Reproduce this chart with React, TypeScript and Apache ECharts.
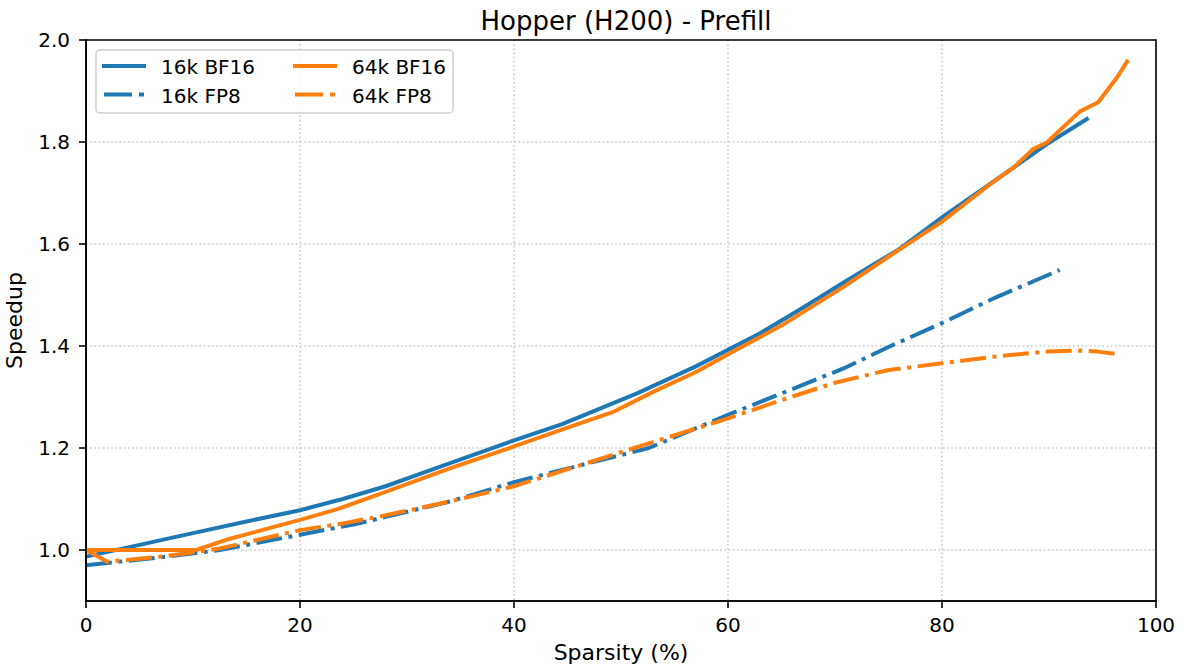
import React, { useEffect, useRef } from "react";
import * as echarts from "echarts";

// Sparsity (%) samples and measured speedups for each configuration
const bf16_16kX = [0, 5, 10, 15, 20, 24, 28, 32, 36, 40, 44.5, 51.5, 57, 63, 67, 71, 76, 80, 85, 89.8, 93.7];
const bf16_16kY = [0.987, 1.01, 1.033, 1.056, 1.078, 1.1, 1.125, 1.155, 1.185, 1.215, 1.247, 1.307, 1.36, 1.425, 1.475, 1.527, 1.59, 1.652, 1.725, 1.796, 1.847];

const fp8_16kX = [0, 7.5, 12.5, 20, 25, 28, 34, 40, 46, 52.6, 60, 65, 70.8, 75, 80, 85, 91];
const fp8_16kY = [0.97, 0.987, 1.0, 1.03, 1.05, 1.065, 1.095, 1.133, 1.165, 1.2, 1.265, 1.307, 1.356, 1.398, 1.445, 1.495, 1.549];

const bf16_64kX = [0, 5, 10.3, 13.1, 20, 23.5, 28, 34, 40, 45, 49.3, 53, 57.1, 61, 65, 70.8, 75, 80, 84.8, 86.7, 88.5, 89.8, 92.9, 94.6, 96.4, 97.4];
const bf16_64kY = [1.0, 1.0, 1.0, 1.02, 1.059, 1.08, 1.114, 1.16, 1.203, 1.24, 1.271, 1.31, 1.35, 1.395, 1.44, 1.516, 1.575, 1.644, 1.722, 1.75, 1.786, 1.799, 1.86, 1.878, 1.928, 1.961];

const fp8_64kX = [0, 2, 7.5, 12.5, 20, 24, 28, 34, 40, 46, 52, 60, 65, 70, 75, 80, 84.8, 89.8, 92.9, 94.5, 96.4];
const fp8_64kY = [1.0, 0.977, 0.988, 1.003, 1.039, 1.052, 1.068, 1.095, 1.125, 1.165, 1.205, 1.258, 1.294, 1.328, 1.353, 1.366, 1.379, 1.389, 1.391, 1.389, 1.384];

const xTicks = [0, 20, 40, 60, 80, 100];
const yTicks = [1.0, 1.2, 1.4, 1.6, 1.8, 2.0];

const BLUE = "#1f77b4";
const ORANGE = "#ff7f0e";
const DASH_DOT = [26, 6.5, 4, 6.5];
const FONT = "DejaVu Sans";
const GRID_LINE = { color: "#c8c8c8", width: 1.6, type: [1.6, 2.6] };

// plot rectangle in pixels
const PLOT = { left: 86, top: 40, right: 1156, bottom: 601 };

const pairs = (xs: number[], ys: number[]) => xs.map((x, i) => [x, ys[i]]);

const lineSeries = (name: string, data: number[][], color: string, dashed: boolean) => ({
  name,
  type: "line",
  data,
  showSymbol: false,
  symbol: "none",
  color,
  lineStyle: { color, width: 4, type: dashed ? DASH_DOT : "solid", cap: "butt", join: "round" },
});

const legendItems = [
  { name: "16k BF16", color: BLUE, dashed: false, col: 0, row: 0 },
  { name: "16k FP8", color: BLUE, dashed: true, col: 0, row: 1 },
  { name: "64k BF16", color: ORANGE, dashed: false, col: 1, row: 0 },
  { name: "64k FP8", color: ORANGE, dashed: true, col: 1, row: 1 },
];

export default function App() {
  const ref = useRef<HTMLDivElement>(null);

  useEffect(() => {
    if (!ref.current) return;
    const chart = echarts.init(ref.current, null, { renderer: "svg" });

    const colX = [102, 293];
    const rowY = [66, 94.5];
    const legendGraphics: any[] = [
      {
        type: "rect",
        z: 20,
        shape: { x: 96, y: 50, width: 357, height: 63, r: 4 },
        style: { fill: "rgba(255,255,255,0.85)", stroke: "#d0d0d0", lineWidth: 1.5 },
      },
    ];
    legendItems.forEach((it) => {
      const x0 = colX[it.col];
      const y = rowY[it.row];
      legendGraphics.push({
        type: "line",
        z: 21,
        shape: { x1: it.dashed ? x0 + 2 : x0, y1: y, x2: x0 + 44, y2: y },
        style: { stroke: it.color, lineWidth: 4, lineDash: it.dashed ? [28, 7, 5, 7] : null, lineCap: "butt" },
      });
      legendGraphics.push({
        type: "text",
        z: 21,
        x: x0 + 59,
        y: y + 1,
        style: {
          text: it.name,
          fill: "#000",
          font: `20px "${FONT}"`,
          verticalAlign: "middle",
          align: "left",
        },
      });
    });

    chart.setOption({
      animation: false,
      textStyle: { fontFamily: FONT },
      title: {
        text: "Hopper (H200) - Prefill",
        left: 621,
        top: 3,
        textAlign: "center",
        textStyle: { fontFamily: FONT, fontSize: 26, fontWeight: "normal", color: "#000" },
      },
      grid: {
        left: PLOT.left,
        right: 1184 - PLOT.right,
        top: PLOT.top,
        bottom: 672 - PLOT.bottom,
        show: false,
        containLabel: false,
        outerBoundsMode: "none",
      },
      graphic: [
        // axes frame drawn above the plotted lines
        {
          type: "rect",
          z: 15,
          silent: true,
          shape: { x: PLOT.left, y: PLOT.top, width: PLOT.right - PLOT.left, height: PLOT.bottom - PLOT.top },
          style: { fill: "none", stroke: "#000", lineWidth: 1.6 },
        },
        ...legendGraphics,
      ],
      xAxis: {
        type: "value",
        min: 0,
        max: 100,
        interval: 20,
        name: "Sparsity (%)",
        nameLocation: "middle",
        nameGap: 40,
        nameTextStyle: { fontFamily: FONT, fontSize: 22, color: "#000" },
        axisLine: { show: true, onZero: false, lineStyle: { color: "#000", width: 1.6 } },
        axisTick: { show: true, length: 7, lineStyle: { color: "#000", width: 1.6 } },
        axisLabel: {
          fontFamily: FONT,
          fontSize: 20,
          color: "#000",
          margin: 14,
          customValues: xTicks,
        },
        splitLine: { show: true, lineStyle: GRID_LINE },
      },
      yAxis: {
        type: "value",
        min: 0.9,
        max: 2.0,
        name: "Speedup",
        nameLocation: "middle",
        nameGap: 61,
        nameTextStyle: { fontFamily: FONT, fontSize: 22, color: "#000" },
        axisLine: { show: true, onZero: false, lineStyle: { color: "#000", width: 1.6 } },
        axisTick: { show: true, length: 7, customValues: yTicks, lineStyle: { color: "#000", width: 1.6 } },
        axisLabel: {
          fontFamily: FONT,
          fontSize: 20,
          color: "#000",
          margin: 16,
          customValues: yTicks,
          formatter: (v: number) => v.toFixed(1),
        },
        splitLine: { show: true, lineStyle: GRID_LINE },
      },
      series: [
        lineSeries("16k BF16", pairs(bf16_16kX, bf16_16kY), BLUE, false),
        lineSeries("16k FP8", pairs(fp8_16kX, fp8_16kY), BLUE, true),
        lineSeries("64k BF16", pairs(bf16_64kX, bf16_64kY), ORANGE, false),
        lineSeries("64k FP8", pairs(fp8_64kX, fp8_64kY), ORANGE, true),
      ],
    });

    return () => chart.dispose();
  }, []);

  return (
    <div
      ref={ref}
      style={{ position: "fixed", left: 0, top: 0, width: 1184, height: 672, background: "#fff" }}
    />
  );
}
